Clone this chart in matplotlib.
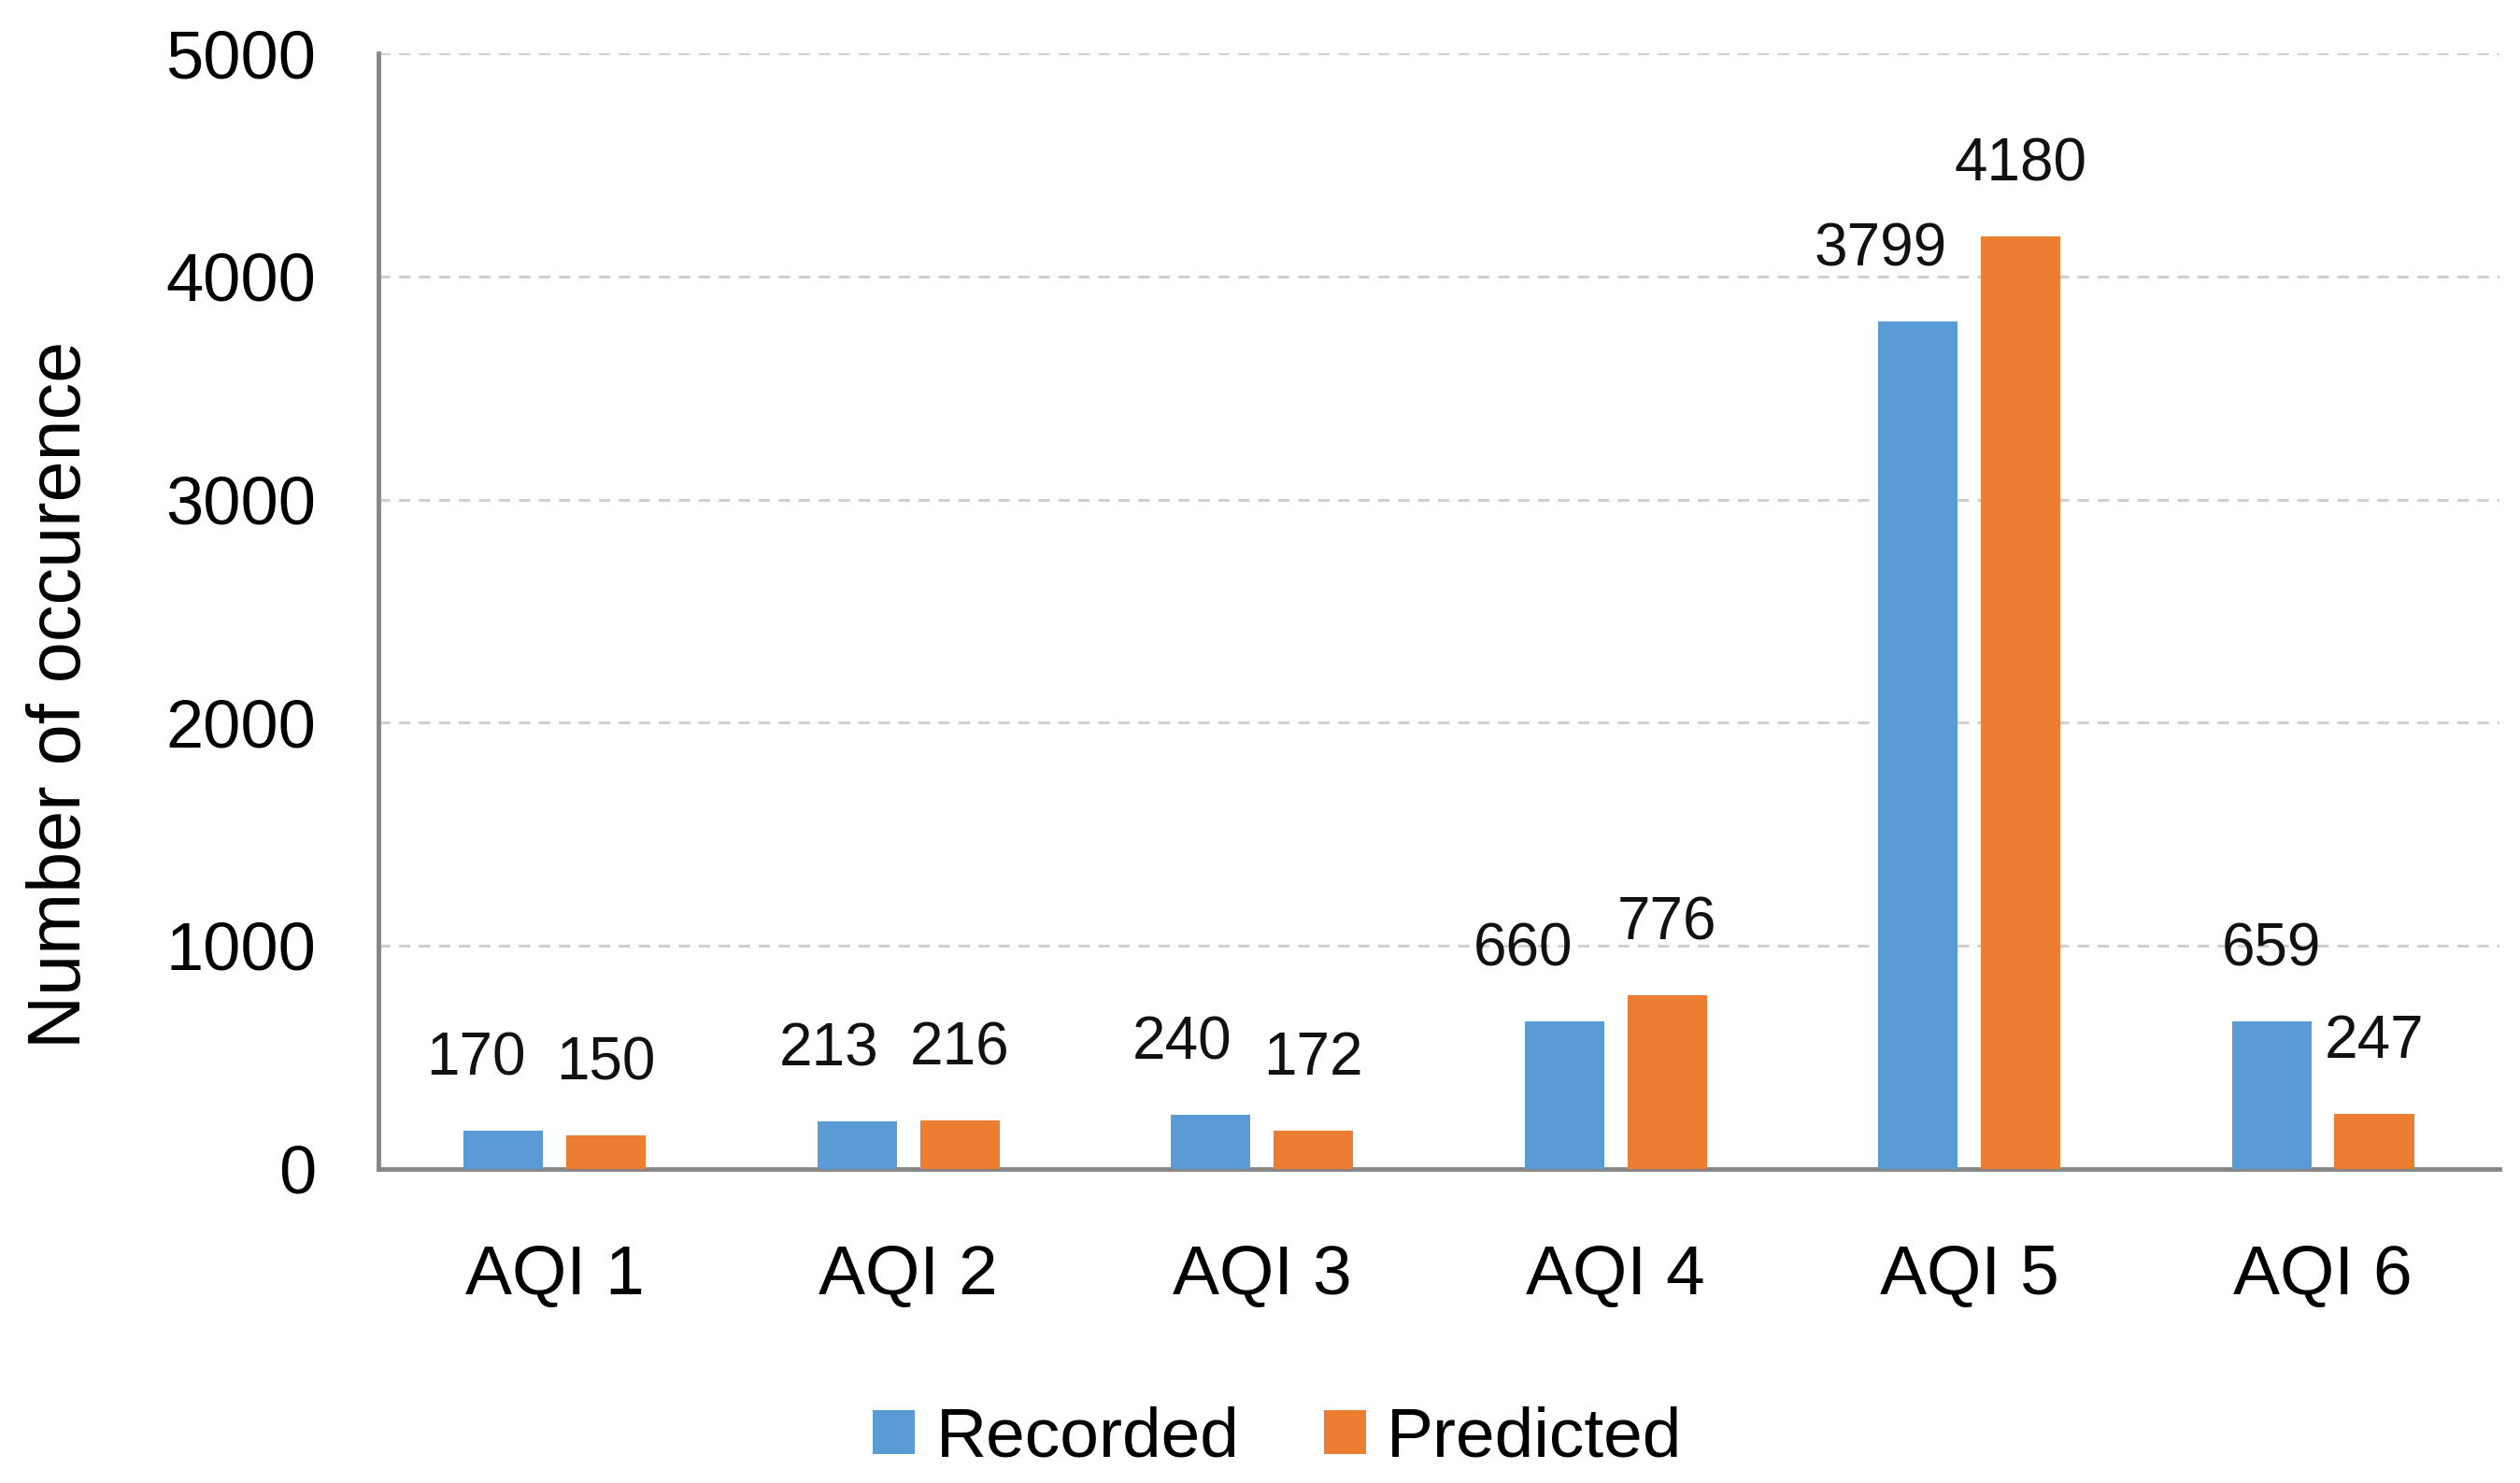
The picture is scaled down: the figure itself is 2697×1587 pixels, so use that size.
import numpy as np
import matplotlib
matplotlib.use("Agg")
import matplotlib.pyplot as plt

categories = ["AQI 1", "AQI 2", "AQI 3", "AQI 4", "AQI 5", "AQI 6"]
recorded = [170, 213, 240, 660, 3799, 659]
predicted = [150, 216, 172, 776, 4180, 247]

BLUE = "#5B9BD5"
ORANGE = "#ED7D31"
GRID = "#D0D0D0"
AXIS = "#868686"

plt.rcParams["font.family"] = ["Liberation Sans", "DejaVu Sans"]

fig = plt.figure(figsize=(26.97, 15.87), dpi=100)
ax = fig.add_axes([0.150, 0.212, 0.842, 0.752])

x = np.arange(len(categories))
w = 0.225
off = 0.145
ax.bar(x - off, recorded, w, color=BLUE, label="Recorded", zorder=3)
ax.bar(x + off, predicted, w, color=ORANGE, label="Predicted", zorder=3)

# Excel-style data labels, recorded ones nudged left a bit
rec_dx = [-21, -22, -22, -32, -29, 0]
for i in range(len(categories)):
    ax.annotate(str(recorded[i]), (x[i] - off, recorded[i]),
                xytext=(rec_dx[i], 55), textcoords="offset points",
                ha="center", va="center", fontsize=46, color="#111111")
    ax.annotate(str(predicted[i]), (x[i] + off, predicted[i]),
                xytext=(0, 55), textcoords="offset points",
                ha="center", va="center", fontsize=46, color="#111111")

ax.set_xlim(-0.5, len(categories) - 0.5)
ax.set_ylim(0, 5000)
ax.set_yticks(np.arange(0, 5001, 1000))
ax.set_xticks(x)
ax.set_xticklabels(categories)
ax.tick_params(axis="y", length=0, pad=48, labelsize=52)
ax.tick_params(axis="x", length=0, pad=58, labelsize=54)

ax.yaxis.grid(True, color=GRID, linestyle=(0, (4, 3)), linewidth=2.2, zorder=0)
ax.set_axisbelow(True)
for s in ["top", "right"]:
    ax.spines[s].set_visible(False)
for s in ["left", "bottom"]:
    ax.spines[s].set_color(AXIS)
    ax.spines[s].set_linewidth(3.5)

ax.set_ylabel("Number of occurence", fontsize=57)
ax.yaxis.set_label_coords(-0.133, 0.425)

fig.legend(loc="center", bbox_to_anchor=(0.507, 0.030), ncol=2, frameon=False,
           fontsize=54, handlelength=0.6, handleheight=0.6, handletextpad=0.3,
           columnspacing=1.2)

fig.savefig("out.png", dpi=100, facecolor="white")
